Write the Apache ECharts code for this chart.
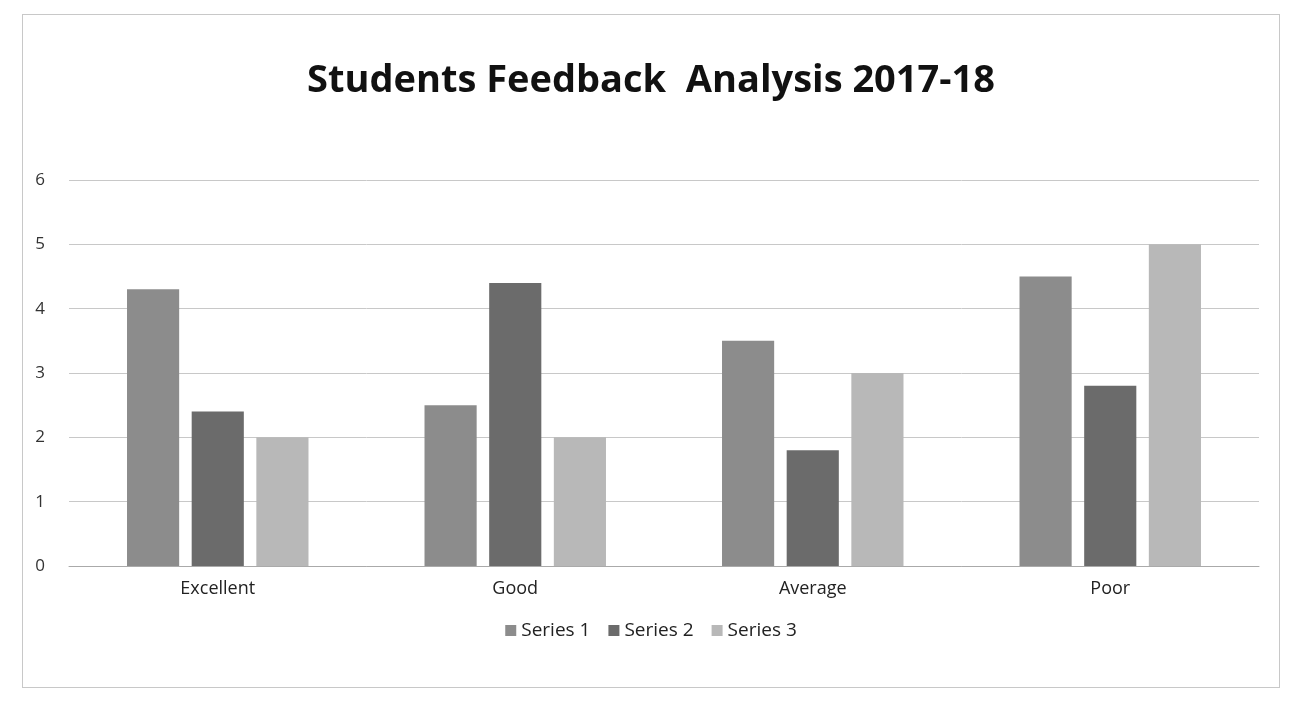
<!DOCTYPE html>
<html>
<head>
<meta charset="utf-8">
<script src="https://cdn.jsdelivr.net/npm/echarts@6/dist/echarts.min.js"></script>
<style>
  html, body { margin: 0; padding: 0; background: #fff; }
  #main { position: absolute; left: 22px; top: 14px; width: 1258px; height: 674px; border: 1px solid #c8c8c8; box-sizing: border-box; }
</style>
</head>
<body>
<div id="main"></div>
<script>
// categories / values
const categories = ['Excellent', 'Good', 'Average', 'Poor'];
const series1 = [4.3, 2.5, 3.5, 4.5];
const series2 = [2.4, 4.4, 1.8, 2.8];
const series3 = [2, 2, 3, 5];
const seriesNames = ['Series 1', 'Series 2', 'Series 3'];
const colors = ['#8c8c8c', '#6b6b6b', '#b8b8b8'];

const font = '"Open Sans", "Noto Sans", sans-serif';

let chart = echarts.init(document.getElementById('main'));
let option = {
  color: colors,
  animation: false,
  title: {
    text: 'Students Feedback  Analysis 2017-18',
    left: 'center',
    top: 42,
    textStyle: { fontFamily: font, fontSize: 38, fontWeight: 'bold', color: '#111' }
  },
  legend: {
    data: seriesNames,
    bottom: 42,
    left: 'center',
    icon: 'rect',
    itemWidth: 11,
    itemHeight: 11,
    itemGap: 18,
    textStyle: { fontFamily: font, fontSize: 19, color: '#222' }
  },
  grid: { left: 46, right: 20, top: 165, bottom: 121 },
  xAxis: {
    type: 'category',
    data: categories,
    axisTick: { show: false },
    axisLine: { lineStyle: { color: '#aaa' } },
    axisLabel: { fontFamily: font, fontSize: 18, color: '#222', margin: 14 }
  },
  yAxis: {
    type: 'value',
    min: 0,
    max: 6,
    interval: 1,
    axisLine: { show: false },
    axisTick: { show: false },
    axisLabel: { fontFamily: font, fontSize: 17, color: '#333', margin: 24 },
    splitLine: { lineStyle: { color: '#c8c8c8', width: 1 } }
  },
  series: [
    { name: seriesNames[0], type: 'bar', data: series1, barGap: '24%', barCategoryGap: '39%' },
    { name: seriesNames[1], type: 'bar', data: series2 },
    { name: seriesNames[2], type: 'bar', data: series3 }
  ]
};
chart.setOption(option);
</script>
</body>
</html>
